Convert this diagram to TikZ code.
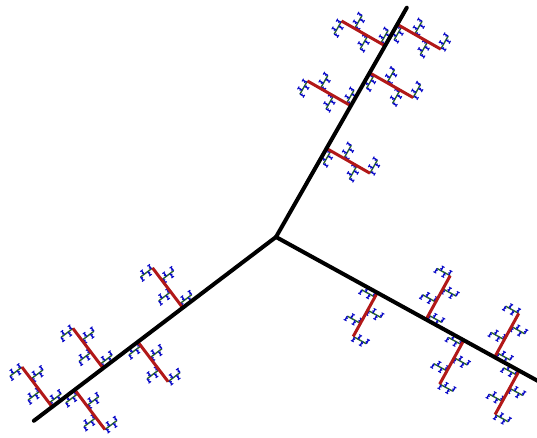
\documentclass[tikz,border=0pt]{standalone}
\definecolor{myred}{RGB}{178,24,24}
\definecolor{mygreen}{RGB}{40,100,40}
\definecolor{myblue}{RGB}{10,10,200}
\tikzset{
  blackline/.style={line width=4pt, black, line cap=round},
  redline/.style={line width=3pt, myred},
  greenline/.style={line width=1.4pt, mygreen},
  blueline/.style={line width=1.4pt, myblue},
  tinyline/.style={line width=1pt, myblue},
}
\begin{document}
\begin{tikzpicture}[x=1pt,y=1pt]
\useasboundingbox (0,0) rectangle (537,438);
\clip (0,0) rectangle (537,438);
\coordinate (center) at (276,201);
\foreach \ang/\pl in {60.3/265.5, 217.2/304.8, -28.8/301}{
  \begin{scope}[shift={(center)}, rotate=\ang]
    \foreach \f/\s in {0.384/-1,0.569/1,0.712/-1,0.829/1,0.922/-1}{
      \begin{scope}[shift={(\f*\pl,0)}, rotate=\s*90]
        \foreach \g/\t in {0.1/-1,0.4/1,0.7/-1,1.0/1}{
          \begin{scope}[shift={(\g*50,0)}, rotate=\t*90]
            \draw[greenline] (0,0) -- (15,0);
            \foreach \h/\u in {0.1/-1,0.4/1,0.7/-1,1.0/1}{
              \begin{scope}[shift={(\h*15,0)}, rotate=\u*90]
                \draw[blueline] (0,0) -- (4.5,0);
                \foreach \k/\v in {0.4/1,1.0/-1,1.0/1}{
                  \draw[tinyline] (\k*4.5,0) -- ++(0,\v*1.6);
                }
              \end{scope}
            }
          \end{scope}
        }
        \coordinate (rs) at (0,0);
        \coordinate (re) at (50,0);
        \draw[redline] (rs) -- (re);
      \end{scope}
    }
  \end{scope}
}
\foreach \ang/\len [count=\n] in {60.3/264, 217.2/304, -28.8/330}{
  \path (center) ++(\ang:\len) coordinate (tip\n);
  \draw[blackline] (center) -- (tip\n);
}
\end{tikzpicture}
\end{document}
